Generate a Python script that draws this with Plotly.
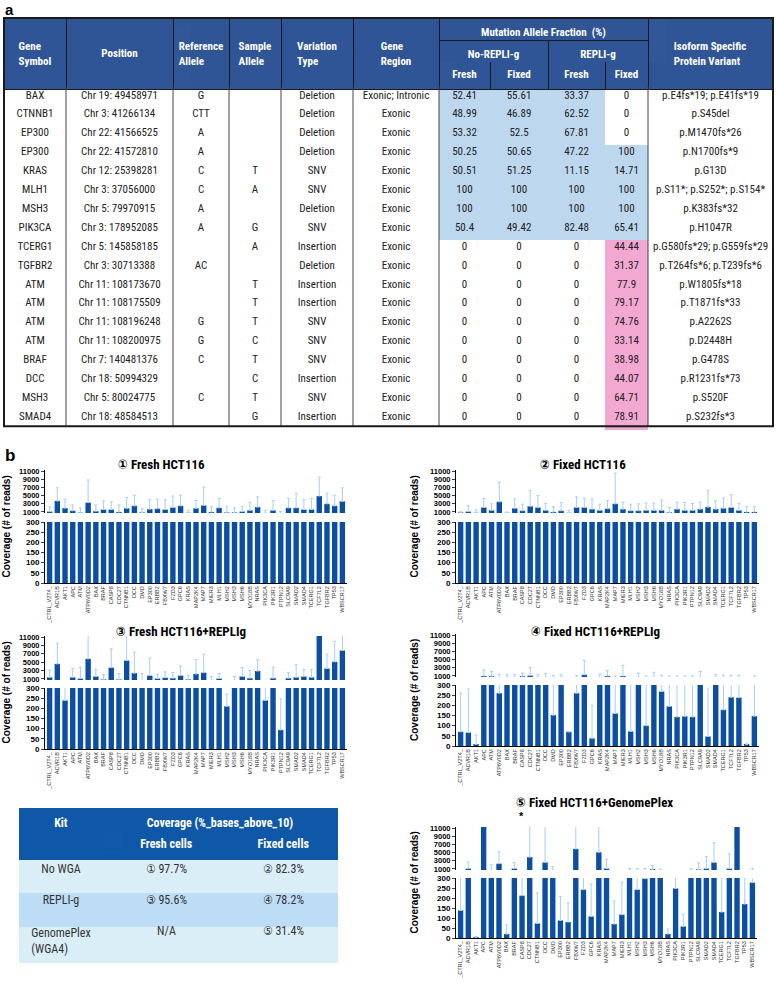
import plotly.graph_objects as go

W, H = 776, 984
def fx(x): return x / W
def fy(y): return min(1.0, max(0.0, 1 - y / H))

NARROW = "Liberation Sans Narrow, Roboto Condensed, DejaVu Sans Condensed, Liberation Sans, sans-serif"
ARIAL = "Liberation Sans, Arial, sans-serif"
SP = "\u00a0<br>"
CLEAR = "rgba(0,0,0,0)"

# ---------------- Table a data ----------------
gene_symbol = ["BAX", "CTNNB1", "EP300", "EP300", "KRAS", "MLH1", "MSH3", "PIK3CA", "TCERG1",
               "TGFBR2", "ATM", "ATM", "ATM", "ATM", "BRAF", "DCC", "MSH3", "SMAD4"]
position = ["Chr 19: 49458971", "Chr 3: 41266134", "Chr 22: 41566525", "Chr 22: 41572810",
            "Chr 12: 25398281", "Chr 3: 37056000", "Chr 5: 79970915", "Chr 3: 178952085",
            "Chr 5: 145858185", "Chr 3: 30713388", "Chr 11: 108173670", "Chr 11: 108175509",
            "Chr 11: 108196248", "Chr 11: 108200975", "Chr 7: 140481376", "Chr 18: 50994329",
            "Chr 5: 80024775", "Chr 18: 48584513"]
ref_allele = ["G", "CTT", "A", "A", "C", "C", "A", "A", "", "AC", "", "", "G", "G", "C", "", "C", ""]
sample_allele = ["", "", "", "", "T", "A", "", "G", "A", "", "T", "T", "T", "C", "T", "C", "T", "G"]
variation_type = ["Deletion", "Deletion", "Deletion", "Deletion", "SNV", "SNV", "Deletion", "SNV",
                  "Insertion", "Deletion", "Insertion", "Insertion", "SNV", "SNV", "SNV",
                  "Insertion", "SNV", "Insertion"]
gene_region = ["Exonic; Intronic"] + ["Exonic"] * 17
maf_no_fresh = [52.41, 48.99, 53.32, 50.25, 50.51, 100, 100, 50.4, 0, 0, 0, 0, 0, 0, 0, 0, 0, 0]
maf_no_fixed = [55.61, 46.89, 52.5, 50.65, 51.25, 100, 100, 49.42, 0, 0, 0, 0, 0, 0, 0, 0, 0, 0]
maf_r_fresh = [33.37, 62.52, 67.81, 47.22, 11.15, 100, 100, 82.48, 0, 0, 0, 0, 0, 0, 0, 0, 0, 0]
maf_r_fixed = [0, 0, 0, 100, 14.71, 100, 100, 65.41, 44.44, 31.37, 77.9, 79.17, 74.76, 33.14,
               38.98, 44.07, 64.71, 78.91]
isoform = ["p.E4fs*19; p.E41fs*19", "p.S45del", "p.M1470fs*26", "p.N1700fs*9", "p.G13D",
           "p.S11*; p.S252*; p.S154*", "p.K383fs*32", "p.H1047R", "p.G580fs*29; p.G559fs*29",
           "p.T264fs*6; p.T239fs*6", "p.W1805fs*18", "p.T1871fs*33", "p.A2262S", "p.D2448H",
           "p.G478S", "p.R1231fs*73", "p.S520F", "p.S232fs*3"]

# ---------------- Coverage table data ----------------
kit_names = ["No WGA", "REPLI-g", "GenomePlex<br>(WGA4)"]
fresh_cov = [97.7, 95.6, None]
fixed_cov = [82.3, 78.2, 31.4]
fresh_ids = ["①", "③", ""]
fixed_ids = ["②", "④", "⑤"]

# ---------------- Coverage bar data ----------------
genes = ["_CTRL_V2T4_", "ACVR1B", "AKT1", "APC", "ATM", "ATP6V0D2", "BAX", "BRAF", "CASP8",
         "CDC27", "CTNNB1", "DCC", "DMD", "EP300", "ERBB2", "FBXW7", "FZD3", "GPC6", "KRAS",
         "MAP2K4", "MAP7", "MIER3", "MLH1", "MSH2", "MSH3", "MSH6", "MYO18B", "NRAS", "PIK3CA",
         "PIK3R1", "PTPN12", "SLC9A9", "SMAD2", "SMAD4", "TCERG1", "TCF7L2", "TGFBR2", "TP53",
         "WBSCR17"]

fresh_mean = [1100, 3700, 1950, 1300, 850, 3300, 1200, 1600, 1600, 1000, 1900, 2500, 900, 1700,
              1800, 1600, 2100, 2500, 800, 1900, 2600, 1000, 2000, 900, 900, 1100, 1400, 2200,
              700, 1400, 600, 2000, 2000, 1600, 1600, 4900, 3000, 2500, 3600]
fresh_sd = [1100, 3200, 2150, 1400, 1150, 5500, 1500, 2100, 1900, 1700, 2600, 2600, 900, 2300,
            2300, 2400, 2800, 2600, 600, 1900, 4500, 1400, 2300, 1400, 1100, 1300, 2000, 2500,
            700, 2400, 500, 2300, 3600, 2400, 2700, 4600, 2600, 2600, 3300]

fixed_mean = [900, 1100, 800, 2100, 1400, 3500, 800, 1900, 1300, 2400, 2100, 1400, 1000, 1300,
              800, 2100, 2100, 1700, 1400, 1800, 3000, 1700, 1300, 1300, 1400, 1400, 1400, 900,
              1700, 1400, 1400, 1700, 2200, 1700, 1900, 2100, 1400, 1000, 1000]
fixed_sd = [200, 1400, 700, 2200, 1600, 4800, 200, 2300, 1600, 3900, 2900, 1700, 1300, 2000,
            600, 2600, 2200, 2500, 1500, 2000, 7500, 1700, 1600, 1700, 1800, 1800, 2500, 1200,
            1700, 1900, 1700, 1700, 4100, 2000, 2500, 3100, 1700, 1300, 1300]

fresh_repli_mean = [1400, 4600, 239, 1400, 1100, 5800, 1600, 900, 3700, 900, 5400, 2400, 600,
                    1800, 1100, 1300, 1200, 1800, 900, 2200, 2500, 600, 1100, 210, 600, 1600,
                    1200, 2900, 239, 1200, 94, 1200, 1400, 1600, 1400, 11500, 3500, 5100, 7800]
fresh_repli_sd = [1700, 4900, 300, 2100, 2700, 6000, 1700, 1100, 4500, 1400, 6000, 5000, 1700,
                  4200, 1000, 1400, 1300, 2300, 900, 3400, 4400, 1000, 1200, 60, 1000, 2100,
                  1800, 2700, 400, 2600, 153, 1300, 3000, 1700, 1900, 0, 3400, 4900, 4000]

fixed_repli_mean = [70, 66, 8, 1000, 950, 260, 700, 700, 950, 1100, 700, 700, 152, 700, 70, 260,
                    1300, 38, 700, 1000, 160, 1000, 72, 700, 100, 700, 268, 195, 143, 146, 143,
                    700, 47, 700, 178, 240, 238, 7, 147]
fixed_repli_sd = [190, 214, 46, 1500, 1150, 1140, 700, 700, 750, 2000, 700, 900, 950, 600, 0,
                  840, 3500, 162, 800, 1300, 840, 2600, 230, 1000, 900, 1200, 932, 805, 857, 854,
                  857, 1400, 233, 700, 1022, 960, 962, 5, 853]

fixed_gp_mean = [138, 1100, 3, 11500, 700, 2300, 20, 1100, 212, 3900, 73, 2600, 700, 88, 80,
                 5900, 242, 108, 5100, 1100, 70, 117, 700, 242, 297, 950, 700, 20, 248, 58, 700,
                 900, 1100, 2600, 130, 1100, 11500, 170, 277]
fixed_gp_sd = [300, 1600, 5, 0, 1300, 2900, 46, 1500, 250, 7500, 152, 9000, 900, 120, 95, 6000,
               60, 162, 7000, 2300, 115, 163, 400, 858, 803, 850, 300, 25, 60, 62, 400, 1600,
               2900, 4800, 170, 3600, 0, 130, 823]

panel_titles = ["① Fresh HCT116", "② Fixed HCT116", "③ Fresh HCT116+REPLIg",
                "④ Fixed HCT116+REPLIg", "⑤ Fixed HCT116+GenomePlex"]
low_ticks = [0, 50, 100, 150, 200, 250, 300]
high_ticks = [1000, 3000, 5000, 7000, 9000, 11000]

HEAD_BLUE = "#2f5597"
LIGHT_BLUE = "#bdd7ee"
PINK = "#f2a8d0"
BAR = "#0b4ea2"
ERR = "#a9cff0"
DARK = "#1a1a1a"

fig = go.Figure()

def hdr_table(values, x0, x1, y0, y1, widths, size=11, fill=HEAD_BLUE, line=DARK, lw=1):
    fig.add_trace(go.Table(
        domain=dict(x=[fx(x0), fx(x1)], y=[fy(y1 + 1), fy(y0)]),
        columnwidth=widths,
        header=dict(values=values, height=y1 - y0, align="center",
                    fill_color=fill, line=dict(color=line, width=lw),
                    font=dict(family=NARROW, size=size, color="white")),
        cells=dict(values=[[] for _ in values]),
    ))

def text_table(cols, x0, x1, y0, n, rh, widths, size, color):
    # transparent table carrying only the cell texts
    fig.add_trace(go.Table(
        domain=dict(x=[fx(x0), fx(x1)], y=[fy(y0 + n * rh + 40), fy(y0)]),
        columnwidth=widths,
        header=dict(values=[""] * len(cols), height=1, fill_color=CLEAR,
                    line=dict(color=CLEAR, width=0)),
        cells=dict(values=[[str(v).replace(" ", "\u00a0") for v in c] for c in cols],
                   height=rh, align="center", fill_color=CLEAR,
                   line=dict(color=CLEAR, width=0),
                   font=dict(family=NARROW, size=size, color=color)),
    ))

# ---------------- Table a ----------------
col_w = [62, 107, 56, 52, 72, 86, 51, 58, 57, 43, 125]
xb = [4]
for w in col_w:
    xb.append(xb[-1] + w)
t_top, h1, h2, h3 = 18, 40, 62, 86
row_h = 18.9
n_rows = len(gene_symbol)
t_bot = h3 + row_h * n_rows

def maf_colors(vals):
    out = []
    for i, v in enumerate(vals):
        if v == 0:
            out.append("white")
        elif maf_no_fresh[i] > 0:
            out.append(LIGHT_BLUE)
        else:
            out.append(PINK)
    return out

maf_cols = [maf_no_fresh, maf_no_fixed, maf_r_fresh, maf_r_fixed]
body_vals = [gene_symbol, position, ref_allele, sample_allele, variation_type, gene_region] + \
            [["{:g}".format(v) for v in c] for c in maf_cols] + [isoform]
white_col = ["white"] * n_rows
body_fill = [white_col] * 6 + [maf_colors(c) for c in maf_cols] + [white_col]
sub_head = ["", "", "", "", "", "", "<b>Fresh</b>", "<b>Fixed</b>", "<b>Fresh</b>", "<b>Fixed</b>", ""]

# fill layer of the body, with the Fresh/Fixed header row
fig.add_trace(go.Table(
    domain=dict(x=[fx(xb[0]), fx(xb[-1])], y=[fy(t_bot + 6), fy(h2 - 2)]),
    columnwidth=col_w,
    header=dict(values=sub_head, height=h3 - h2, align="center", fill_color=HEAD_BLUE,
                line=dict(color=DARK, width=1),
                font=dict(family=NARROW, size=11, color="white")),
    cells=dict(values=[[""] * n_rows for _ in col_w], height=row_h,
               fill_color=body_fill, line=dict(color=body_fill, width=1)),
))
# text layer of the body
text_table(body_vals, xb[0], xb[-1], h3 - 4.7, n_rows, row_h, col_w, 11, "#222")

hdr_table([SP + "<b>Gene<br>Symbol</b>", "", SP + "<b>Reference<br>Allele</b>",
           SP + "<b>Sample<br>Allele</b>", SP + "<b>Variation<br>Type</b>", SP + "<b>Gene<br>Region</b>"],
          xb[0], xb[6], t_top, h3, col_w[:6])
hdr_table([SP + "<b>Position</b>"], xb[1], xb[2], t_top + 7, h3 - 1, [1], fill=CLEAR,
          line=CLEAR, lw=0)
hdr_table([SP + "<b>Isoform Specific<br>Protein Variant</b>"], xb[10], xb[11], t_top, h3, [1])
hdr_table(["<b>Mutation Allele Fraction  (%)</b>"], xb[6], xb[10], t_top, h1, [1])
hdr_table(["<b>No-REPLI-g</b>", "<b>REPLI-g</b>"], xb[6], xb[10], h1, h2,
          [col_w[6] + col_w[7], col_w[8] + col_w[9]])

shapes = []
for k in [1, 2, 3, 4, 5, 6, 10]:
    shapes.append(dict(type="line", xref="paper", yref="paper", x0=fx(xb[k]), x1=fx(xb[k]),
                       y0=fy(h3), y1=fy(t_bot), line=dict(color="#444", width=1)))
shapes.append(dict(type="rect", xref="paper", yref="paper", x0=fx(xb[0]), x1=fx(xb[-1]),
                   y0=fy(t_bot), y1=fy(t_top), line=dict(color=DARK, width=2)))

# ---------------- Coverage table ----------------
cw = [84, 127, 107]
cb = [19]
for w in cw:
    cb.append(cb[-1] + w)
c_top, c_mid, c_head = 808, 831, 854
c_row = 34.4
COV_HEAD = "#0f58a8"

def cov_txt(ids, vals):
    return ["N/A" if v is None else "{} {:.1f}%".format(i, v) for i, v in zip(ids, vals)]

row_fill = ["#daeef8", "#bddcf5", "#daeef8"]
fig.add_trace(go.Table(
    domain=dict(x=[fx(cb[0]), fx(cb[-1])], y=[fy(c_head + 3 * c_row + 6), fy(c_mid - 2)]),
    columnwidth=cw,
    header=dict(values=["", "<b>Fresh cells</b>", "<b>Fixed cells</b>"], height=c_head - c_mid,
                align="center", fill_color=COV_HEAD, line=dict(color=COV_HEAD, width=1),
                font=dict(family=NARROW, size=12, color="white")),
    cells=dict(values=[[""] * 3 for _ in cw], height=c_row, fill_color=[row_fill] * 3,
               line=dict(color=[row_fill] * 3, width=1)),
))
kit_txt = [k.replace(" ", "\u00a0") for k in kit_names]
fig.add_trace(go.Table(
    domain=dict(x=[fx(cb[0]), fx(cb[-1])], y=[fy(c_head + 3 * c_row + 40), fy(c_head + 1)]),
    columnwidth=cw,
    header=dict(values=["", "", ""], height=1, fill_color=CLEAR, line=dict(color=CLEAR, width=0)),
    cells=dict(values=[kit_txt, cov_txt(fresh_ids, fresh_cov), cov_txt(fixed_ids, fixed_cov)],
               height=31, align="center", fill_color=CLEAR, line=dict(color=CLEAR, width=0),
               font=dict(family=NARROW, size=12, color="#333")),
))
hdr_table(["<b>Kit</b>"], cb[0], cb[1], c_top, c_head, [1], size=12, fill=COV_HEAD, line=COV_HEAD)
hdr_table(["<b>Coverage (%_bases_above_10)</b>"], cb[1], cb[3], c_top, c_mid, [1], size=12,
          fill=COV_HEAD, line=COV_HEAD)

# ---------------- Bar panels ----------------
panels = [
    (fresh_mean, fresh_sd, (45, 347), (470, 513), (522, 583), (161, 464)),
    (fixed_mean, fixed_sd, (456, 759), (470, 513), (522, 583), (583, 464)),
    (fresh_repli_mean, fresh_repli_sd, (45, 347), (636, 680), (688, 749), (181, 631)),
    (fixed_repli_mean, fixed_repli_sd, (456, 759), (634, 677), (685, 746), (595, 631)),
    (fixed_gp_mean, fixed_gp_sd, (456, 757), (827, 870), (878, 938), (594, 802)),
]

def note(text, x, y, size, family=ARIAL, angle=0, xanchor="center", yanchor="middle"):
    return dict(text=text, x=fx(x), y=fy(y), xref="paper", yref="paper", showarrow=False,
                textangle=angle, xanchor=xanchor, yanchor=yanchor,
                font=dict(family=family, size=size, color="black"))

annotations = []
layout_axes = {}
for i, (mean, sd, xd, top_seg, low_seg, tpos) in enumerate(panels):
    xn = i + 1
    yl = 2 * i + 1
    yh = 2 * i + 2
    for yn in (yl, yh):
        fig.add_trace(go.Bar(
            x=genes, y=mean, xaxis="x%d" % xn, yaxis="y%d" % yn,
            marker=dict(color=BAR, line=dict(width=0)),
            error_y=dict(type="data", array=sd, arrayminus=[0] * len(sd), symmetric=False,
                         color=ERR, thickness=1, width=1.5),
            showlegend=False, hoverinfo="skip",
        ))
    layout_axes["xaxis%d" % xn] = dict(
        domain=[fx(xd[0]), fx(xd[1])], anchor="y%d" % yl, type="category",
        range=[-0.6, len(genes) - 0.4], tickangle=-90, showline=True, linecolor="black",
        linewidth=1, ticks="", showgrid=False, zeroline=False,
        tickfont=dict(family=ARIAL, size=5.5, color="#333"), automargin=False)
    layout_axes["yaxis%d" % yl] = dict(
        domain=[fy(low_seg[1]), fy(low_seg[0])], anchor="x%d" % xn, range=[0, 300],
        tickvals=low_ticks, ticktext=[str(v) for v in low_ticks], ticks="outside", ticklen=3,
        tickwidth=1, showline=True, linecolor="black", linewidth=1, showgrid=False,
        zeroline=False, tickfont=dict(family=ARIAL, size=8, color="black", weight="bold"),
        automargin=False)
    layout_axes["yaxis%d" % yh] = dict(
        domain=[fy(top_seg[1]), fy(top_seg[0])], anchor="x%d" % xn, range=[750, 11250],
        tickvals=high_ticks, ticktext=[str(v) for v in high_ticks], ticks="outside", ticklen=3,
        tickwidth=1, showline=True, linecolor="black", linewidth=1, showgrid=False,
        zeroline=False, tickfont=dict(family=ARIAL, size=7.5, color="black", weight="bold"),
        automargin=False)
    annotations.append(note("<b>%s</b>" % panel_titles[i], tpos[0], tpos[1], 13, NARROW))
    ytitle_x = 6 if xd[0] < 200 else 414
    annotations.append(note("<b>Coverage (# of reads)</b>", ytitle_x,
                            (top_seg[0] + low_seg[1]) / 2, 10, angle=-90))

annotations.append(note("<b>*</b>", 521, 816, 11))
annotations.append(note("<b>a</b>", 3, 9, 15, xanchor="left"))
annotations.append(note("<b>b</b>", 3, 455, 17, xanchor="left"))

fig.update_layout(
    width=W, height=H, margin=dict(l=0, r=0, t=0, b=0),
    paper_bgcolor="white", plot_bgcolor="white", showlegend=False,
    bargap=0.3, annotations=annotations, shapes=shapes, **layout_axes,
)

fig.write_html("out.html", config={"displayModeBar": False},
               post_script="document.body.style.margin='0px';")
